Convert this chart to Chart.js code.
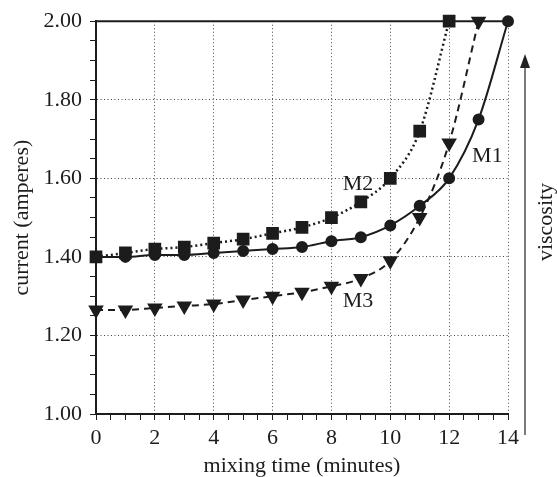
<!DOCTYPE html>
<html>
<head>
<meta charset="utf-8">
<script src="https://cdn.jsdelivr.net/npm/chart.js@4.4.0/dist/chart.umd.min.js"></script>
<style>
  html, body { margin: 0; padding: 0; background: #fff; }
  #wrap { width: 557px; height: 477px; }
</style>
</head>
<body>
<div id="wrap"><canvas id="viscChart" width="557" height="477"></canvas></div>
<script>
// data
const minutes = [0, 1, 2, 3, 4, 5, 6, 7, 8, 9, 10, 11, 12, 13, 14];
const m1 = [1.40, 1.40, 1.405, 1.405, 1.41, 1.415, 1.42, 1.425, 1.44, 1.45, 1.48, 1.53, 1.60, 1.75, 2.00];
const m2 = [1.40, 1.41, 1.42, 1.425, 1.435, 1.445, 1.46, 1.475, 1.50, 1.54, 1.60, 1.72, 2.00];
const m3 = [1.265, 1.265, 1.27, 1.275, 1.28, 1.29, 1.30, 1.31, 1.325, 1.345, 1.39, 1.50, 1.69, 2.00];
const seriesNames = ['M1', 'M2', 'M3'];
const nameAt = [[13.3, 1.655], [8.9, 1.585], [8.9, 1.287]]; // where the M labels sit (data units)
const xTicks = [0, 2, 4, 6, 8, 10, 12, 14];
const yTicks = [1.00, 1.20, 1.40, 1.60, 1.80, 2.00];

const ink = '#1c1c1c';
const serif = "'Liberation Serif', 'DejaVu Serif', serif";

function pts(vals) {
  return vals.map((v, i) => ({ x: minutes[i], y: v }));
}
function isMajorX(v) { return xTicks.some(t => Math.abs(t - v) < 1e-6); }
function isMajorY(v) { return yTicks.some(t => Math.abs(t - v) < 1e-6); }

// top frame line, M labels, viscosity arrow
const extras = {
  id: 'extras',
  afterDatasetsDraw(chart) {
    const ctx = chart.ctx;
    const a = chart.chartArea;
    const xs = chart.scales.x, ys = chart.scales.y;
    ctx.save();
    ctx.strokeStyle = ink;
    ctx.lineWidth = 2;
    ctx.beginPath();
    ctx.moveTo(a.left, a.top);
    ctx.lineTo(a.right, a.top);
    ctx.stroke();

    ctx.fillStyle = ink;
    ctx.font = '22px ' + serif;
    ctx.textAlign = 'center';
    ctx.textBaseline = 'middle';
    seriesNames.forEach((n, i) => {
      ctx.fillText(n, xs.getPixelForValue(nameAt[i][0]), ys.getPixelForValue(nameAt[i][1]));
    });

    // viscosity arrow
    const ax = a.right + 17;
    ctx.strokeStyle = '#333';
    ctx.lineWidth = 1.3;
    ctx.beginPath();
    ctx.moveTo(ax, 435);
    ctx.lineTo(ax, 62);
    ctx.stroke();
    ctx.fillStyle = '#222';
    ctx.beginPath();
    ctx.moveTo(ax, 54);
    ctx.lineTo(ax - 5, 68);
    ctx.lineTo(ax + 5, 68);
    ctx.closePath();
    ctx.fill();

    ctx.translate(a.right + 38, 222);
    ctx.rotate(-Math.PI / 2);
    ctx.fillStyle = ink;
    ctx.fillText('viscosity', 0, 0);
    ctx.restore();
  }
};

const ctx = document.getElementById('viscChart').getContext('2d');
new Chart(ctx, {
  type: 'line',
  data: {
    datasets: [
      {
        label: 'M1',
        data: pts(m1),
        borderColor: ink,
        backgroundColor: ink,
        borderWidth: 2,
        pointStyle: 'circle',
        pointRadius: 5,
        cubicInterpolationMode: 'monotone',
        clip: false
      },
      {
        label: 'M2',
        data: pts(m2),
        borderColor: ink,
        backgroundColor: ink,
        borderWidth: 2.5,
        borderDash: [2, 3],
        pointStyle: 'rect',
        pointRadius: 7.2,
        cubicInterpolationMode: 'monotone',
        clip: false
      },
      {
        label: 'M3',
        data: pts(m3),
        borderColor: ink,
        backgroundColor: ink,
        borderWidth: 2,
        borderDash: [7, 5],
        pointStyle: 'triangle',
        pointRotation: 180,
        pointRadius: 7,
        cubicInterpolationMode: 'monotone',
        clip: false
      }
    ]
  },
  options: {
    responsive: false,
    animation: false,
    layout: { padding: { top: 17, right: 49, left: 0, bottom: 0 } },
    plugins: {
      legend: { display: false },
      tooltip: { enabled: false }
    },
    scales: {
      x: {
        type: 'linear',
        min: 0,
        max: 14,
        afterFit: function(s) { s.height = 63; },
        ticks: {
          stepSize: 0.5,
          autoSkip: false,
          maxTicksLimit: 100,
          maxRotation: 0,
          padding: 5,
          color: ink,
          font: { family: serif, size: 22 },
          callback: function(v) { return isMajorX(v) ? String(v) : ''; }
        },
        grid: {
          color: c => isMajorX(c.tick.value) ? '#444' : 'rgba(0,0,0,0)',
          tickColor: ink,
          tickLength: 6,
          lineWidth: 1
        },
        border: { display: true, color: ink, width: 2, dash: [1, 2.5] },
        title: {
          display: true,
          text: 'mixing time (minutes)',
          color: ink,
          font: { family: serif, size: 22, lineHeight: 1 },
          padding: { top: 0, bottom: 0 }
        }
      },
      y: {
        min: 1,
        max: 2,
        afterFit: function(s) { s.width = 96; },
        ticks: {
          stepSize: 0.05,
          autoSkip: false,
          maxTicksLimit: 100,
          padding: 8,
          color: ink,
          font: { family: serif, size: 22 },
          callback: function(v) { return isMajorY(v) ? v.toFixed(2) : ''; }
        },
        grid: {
          color: c => isMajorY(c.tick.value) ? '#444' : 'rgba(0,0,0,0)',
          tickColor: ink,
          tickLength: 6,
          lineWidth: 1
        },
        border: { display: true, color: ink, width: 2, dash: [1, 2.5] },
        title: {
          display: true,
          text: 'current (amperes)',
          color: ink,
          font: { family: serif, size: 22, lineHeight: 1 },
          padding: { top: 11, bottom: 0 }
        }
      }
    }
  },
  plugins: [extras]
});
</script>
</body>
</html>
